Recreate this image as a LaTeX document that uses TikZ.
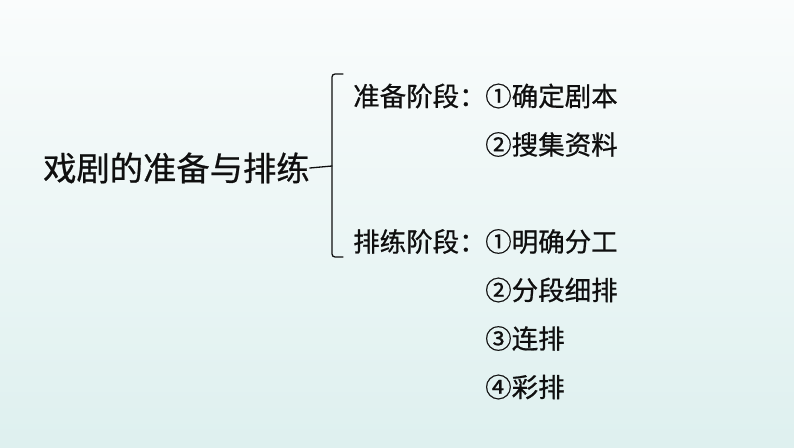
\documentclass[tikz,border=0pt]{standalone}
\usepackage{fontspec}
\newfontfamily\cjk[FakeBold=0.7]{Noto Sans CJK SC}
\usetikzlibrary{calc}
\definecolor{bgtop}{RGB}{250,252,252}
\definecolor{bgmid}{RGB}{236,245,245}
\definecolor{bgbot}{RGB}{222,240,239}
\definecolor{ink}{RGB}{15,15,15}
\begin{document}
\begin{tikzpicture}[x=1pt,y=-1pt,line join=round,line cap=round,
  txt/.style={anchor=west,inner sep=0pt,text=ink,font=\cjk\fontsize{26.5}{26.5}\selectfont}]
\useasboundingbox (0,0) rectangle (794,447);
\shade[top color=bgtop,middle color=bgmid,bottom color=bgbot] (0,0) rectangle (794,447);
\node[txt,font=\cjk\fontsize{33.3}{33.3}\selectfont] (T) at (43,168) {戏剧的准备与排练};
\coordinate (K) at (332,166);
\coordinate (KT) at (332,74);
\coordinate (KB) at (332,257);
\draw[ink,line width=1.3pt] (T.east) -- (K);
\draw[ink,line width=1.3pt,rounded corners=3pt] ($(KT)+(11,0)$) -- (KT) -- (KB) -- ($(KB)+(11,0)$);
\node[txt] (S1) at (353,96) {准备阶段：};
\node[txt] (S2) at (353,241.5) {排练阶段：};
\foreach \n/\y/\t in {A/96/①确定剧本,B/144.5/②搜集资料,C/241.5/①明确分工,D/290/②分段细排,E/338.5/③连排,F/387/④彩排}{\node[txt] (\n) at (485,\y) {\t};}
\end{tikzpicture}
\end{document}
